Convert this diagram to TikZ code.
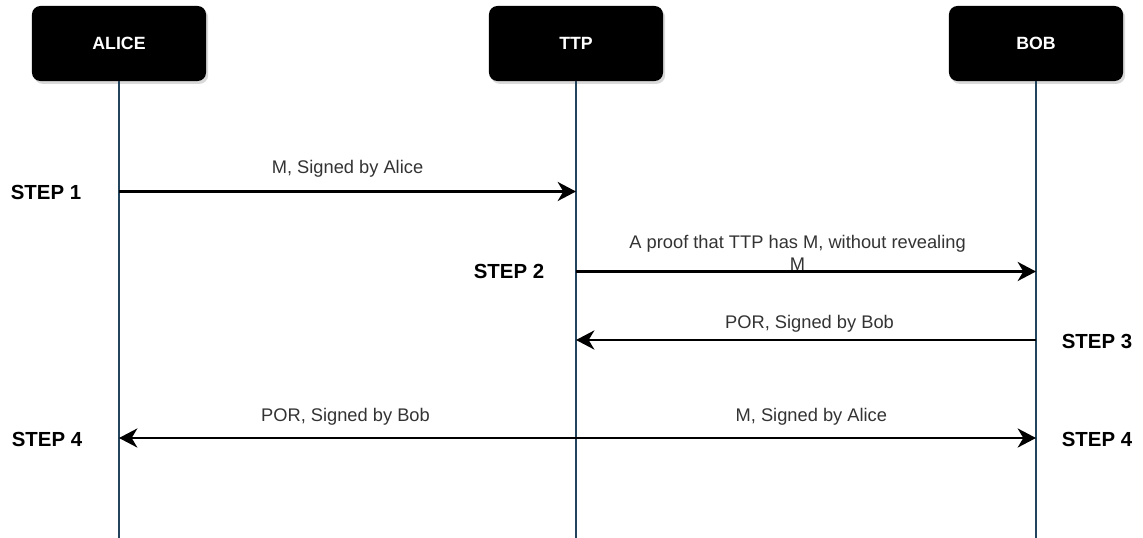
\documentclass[tikz,border=0pt]{standalone}
\usepackage{fontspec}
\setmainfont{Liberation Sans}
\usepackage{tikz}
\usetikzlibrary{shadows, arrows.meta, positioning, calc}

\begin{document}
\begin{tikzpicture}[x=0.025cm, y=-0.025cm, >={Stealth[length=13pt, width=13.5pt, inset=4pt]}]
% --- CORES, ESTILOS E SOMBRAS ---
\definecolor{vida}{HTML}{23445D}
\definecolor{rotulo}{HTML}{333333}
\tikzset{
  ator/.style={fill=black, text=white, rounded corners=6pt, minimum width=4.35cm, minimum height=1.875cm,
    font=\fontsize{12.6}{15}\selectfont\bfseries, drop shadow={opacity=0.3, shadow xshift=1.5pt, shadow yshift=-2pt}},
  passo/.style={font=\fontsize{14.5}{17}\selectfont\bfseries, inner sep=0pt},
  msg/.style={line width=2.1pt},
  txt/.style={font=\fontsize{13}{15.65}\selectfont, text=rotulo, align=center, inner sep=0pt}
}
\useasboundingbox (0,0) rectangle (1143,538);

% LAYER 1: Atores
\node[ator] (alice) at (119,43.5) {ALICE};
\node[ator] (ttp) at (576,43.5) {TTP};
\node[ator] (bob) at (1036,43.5) {BOB};

% LAYER 2: Linhas de vida
\coordinate (aFim) at (alice |- 0,538);
\coordinate (tFim) at (ttp |- 0,538);
\coordinate (bFim) at (bob |- 0,538);
\draw[vida, line width=2pt] (alice.south) -- (aFim);
\draw[vida, line width=2pt] (ttp.south) -- (tFim);
\draw[vida, line width=2pt] (bob.south) -- (bFim);

% LAYER 3: Mensagens
\coordinate (a1) at (alice |- 0,191.5);
\coordinate (t1) at (ttp |- 0,191.5);
\coordinate (t2) at (ttp |- 0,271.5);
\coordinate (b2) at (bob |- 0,271.5);
\coordinate (b3) at (bob |- 0,340);
\coordinate (t3) at (ttp |- 0,340);
\coordinate (a4) at (alice |- 0,438);
\coordinate (b4) at (bob |- 0,438);
\draw[msg, ->] (a1) -- (t1) node[midway, yshift=16.5pt, txt] {M, Signed by Alice};
\draw[msg, ->] (t2) -- (b2) node[midway, xshift=-6pt, yshift=13.5pt, txt] {A proof that TTP has M, without revealing\\M};
\draw[msg, ->] (b3) -- (t3) node[midway, xshift=2.5pt, yshift=11.5pt, txt] {POR, Signed by Bob};
\draw[msg, <->] (a4) -- (b4) node[pos=0.247, yshift=15pt, txt] {POR, Signed by Bob}
  node[pos=0.755, yshift=15pt, txt] {M, Signed by Alice};

% LAYER 4: Passos
\node[passo] (p1) at (46,192) {STEP 1};
\node[passo] (p2) at (509,271) {STEP 2};
\node[passo] (p3) at (1097,341) {STEP 3};
\node[passo] (p4a) at (47,439) {STEP 4};
\node[passo] (p4b) at (1097,439) {STEP 4};
\end{tikzpicture}
\end{document}
